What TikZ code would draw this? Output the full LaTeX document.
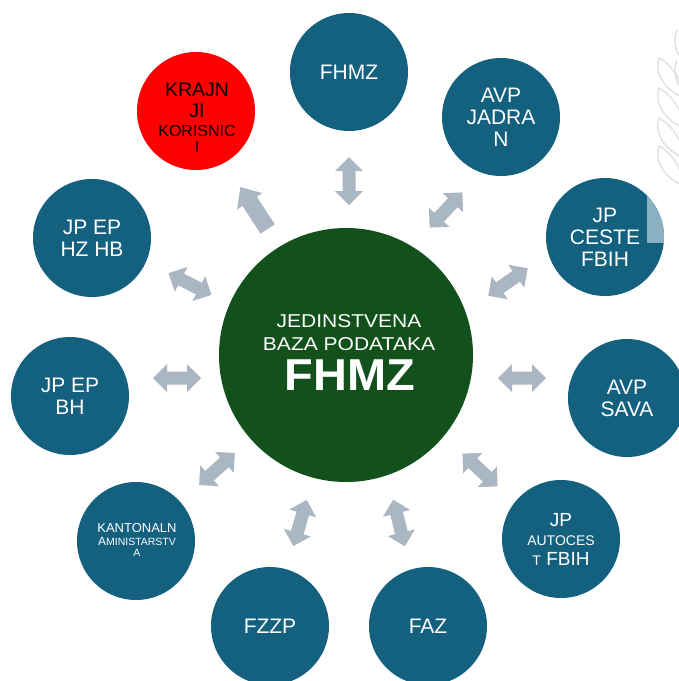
\documentclass[tikz,border=0pt]{standalone}
\usepackage{fontspec}
\setmainfont{Liberation Sans}
\newfontfamily\widesans[FakeStretch=1.13]{Liberation Sans}
\newfontfamily\widebold[FakeStretch=1.05]{Liberation Sans}
\definecolor{bluec}{RGB}{19,96,127}
\definecolor{greenc}{RGB}{18,80,28}
\definecolor{arrowgray}{RGB}{170,182,194}
\definecolor{lightrect}{RGB}{138,176,194}
\definecolor{leafgray}{RGB}{222,222,222}
\tikzset{
  outer/.style={circle, fill=bluec, text=white, minimum size=118pt, inner sep=0pt,
    align=center, font=\fontsize{21}{22}\selectfont},
  lbl/.style={inner sep=0pt, align=center},
  darrow/.pic={\fill[arrowgray] (-24,0) -- (-10,14) -- (-10,6.5) -- (10,6.5) -- (10,14)
     -- (24,0) -- (10,-14) -- (10,-6.5) -- (-10,-6.5) -- (-10,-14) -- cycle;},
  sarrow/.pic={\fill[arrowgray] (-25,-8.5) -- (8,-8.5) -- (8,-15) -- (25,0) -- (8,15)
     -- (8,8.5) -- (-25,8.5) -- cycle;},
  leaf/.style={draw=leafgray, line width=1.3pt}
}
\begin{document}
\begin{tikzpicture}[x=1pt,y=-1pt]
\useasboundingbox (0,0) rectangle (679,681);
\clip (0,0) rectangle (679,681);
% leaf decoration
\foreach \yy in {58,88,118,146}{
  \draw[leaf] (684,\yy+40) .. controls (664,\yy+32) and (654,\yy+14) .. (659,\yy)
     .. controls (671,\yy+6) and (682,\yy+22) .. (684,\yy+40);
}
\foreach \yy in {30,60}{
  \draw[leaf] (690,\yy+36) .. controls (676,\yy+28) and (672,\yy+12) .. (677,\yy);
}
% centre
\node[circle, fill=greenc, minimum size=254pt, inner sep=0pt] (center) at (346,355) {};
\node[lbl, text=white, anchor=base, font=\widesans\fontsize{18.6}{20}\selectfont] (c1) at (349,327) {JEDINSTVENA};
\node[lbl, text=white, anchor=base, font=\widesans\fontsize{18.6}{20}\selectfont] (c2) at (349,350) {BAZA PODATAKA};
\node[lbl, text=white, anchor=base, font=\widebold\bfseries\fontsize{44.7}{46}\selectfont] (c3) at (350,390) {FHMZ};
% outer circles
\node[outer] (fhmz) at (349,72) {FHMZ};
\node[outer] (avpj) at (501,117) {AVP\\JADRA\\N};
\node[outer] (ceste) at (605,237) {JP\\CESTE\\FBIH};
\begin{scope}
  \clip (605,237) circle (59);
  \fill[lightrect] (647,150) rectangle (700,243);
\end{scope}
\node[outer] (sava) at (627,398) {AVP\\SAVA};
\node[outer, font=\fontsize{19}{19}\selectfont] (autocest) at (561,539)
  {JP\\{\fontsize{14}{14}\selectfont AUTOCES}\\[1pt]{\fontsize{14}{14}\selectfont T} FBIH};
\node[outer] (faz) at (428,626) {FAZ};
\node[outer] (fzzp) at (270,626) {FZZP};
\node[outer] (kanton) at (136,541) {};
\node[lbl, text=white, font=\fontsize{13}{13}\selectfont] (kantontext) at (137,540)
  {KANTONALN\\{\fontsize{12}{12}\selectfont A}{\fontsize{10.5}{10.5}\selectfont MINISTARSTV}\\[-2pt]{\fontsize{10.5}{10.5}\selectfont A}};
\node[outer] (jpepbh) at (70,396) {JP EP\\BH};
\node[outer] (hzhb) at (92,238) {JP EP\\HZ HB};
\node[outer, fill=red] (krajnji) at (196,111) {};
\node[lbl, text=black, font=\fontsize{19.5}{21}\selectfont] (krajnjitext) at (197,118)
  {KRAJN\\JI\\[-2pt]{\fontsize{16}{16}\selectfont KORISNIC}\\[-5pt]{\fontsize{16}{16}\selectfont I}};
% block arrows
\pic[rotate=90] at (349,181) {darrow};
\pic[rotate=47] at (446,210) {darrow};
\pic[rotate=35] at (508,282) {darrow};
\pic at (522,378) {darrow};
\pic[rotate=-43] at (480,470) {darrow};
\pic[rotate=-76] at (399,523) {darrow};
\pic[rotate=74] at (300,523) {darrow};
\pic[rotate=42] at (217,469) {darrow};
\pic at (177,378) {darrow};
\pic[rotate=-27] at (190,284) {darrow};
\pic[rotate=123] at (254,208) {sarrow};
\end{tikzpicture}
\end{document}
